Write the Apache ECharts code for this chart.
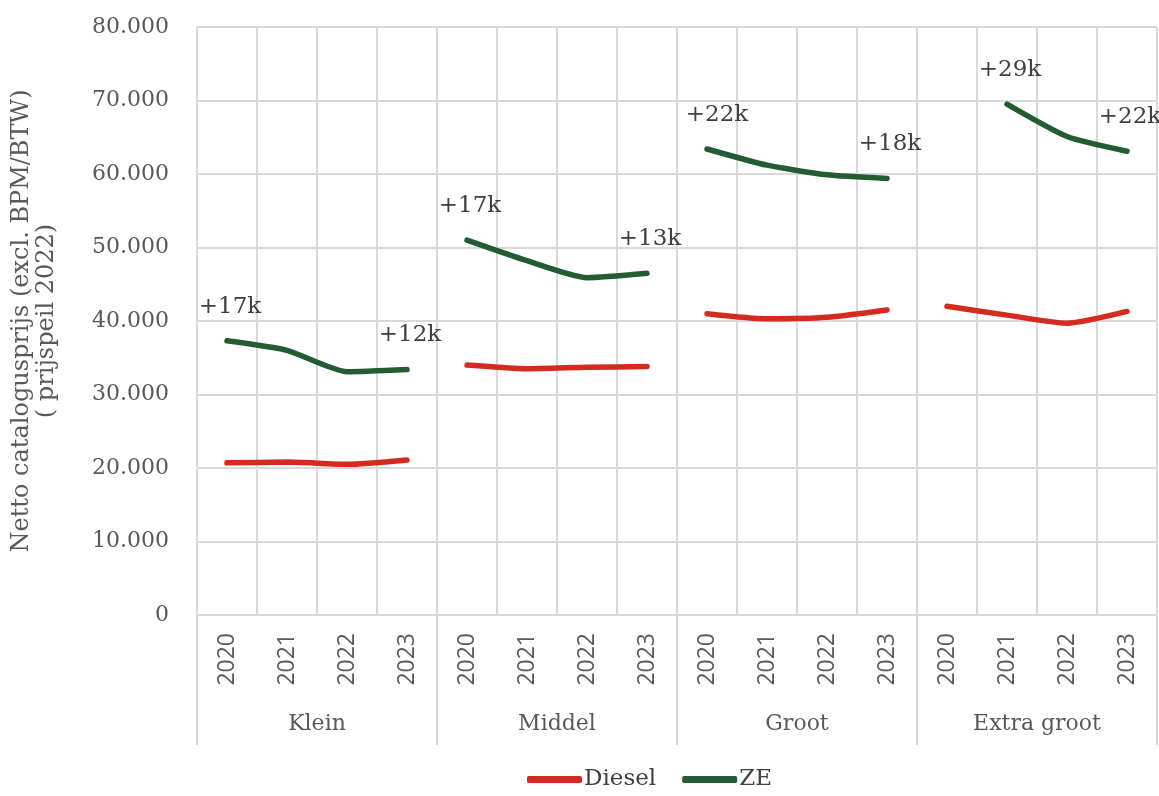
<!DOCTYPE html>
<html>
<head>
<meta charset="utf-8">
<script src="https://cdn.jsdelivr.net/npm/echarts@6/dist/echarts.min.js"></script>
<style>
  html, body { margin: 0; padding: 0; background: #fff; }
  #chart { width: 1159px; height: 796px; }
</style>
</head>
<body>
<div id="chart"></div>
<script>
// categories
const groups = ["Klein", "Middel", "Groot", "Extra groot"];
const years = ["2020", "2021", "2022", "2023"];

// values per group, 2020..2023
const dieselKlein = [20700, 20800, 20500, 21100];
const dieselMiddel = [34000, 33500, 33700, 33800];
const dieselGroot = [41000, 40300, 40500, 41500];
const dieselExtra = [42000, 40800, 39700, 41300];

const zeKlein = [37300, 36000, 33100, 33400];
const zeMiddel = [51000, 48200, 45900, 46500];
const zeGroot = [63400, 61200, 59900, 59400];
const zeExtra = [null, 69500, 65100, 63100];

// labels shown on the ZE lines (first and last point of each group)
const zeLabels = [
  ["+17k", null, null, "+12k"],
  ["+17k", null, null, "+13k"],
  ["+22k", null, null, "+18k"],
  [null, "+29k", null, "+22k"]
];

// y axis ticks
const yMin = 0;
const yMax = 80000;
const yStep = 10000;

const dieselAll = [dieselKlein, dieselMiddel, dieselGroot, dieselExtra];
const zeAll = [zeKlein, zeMiddel, zeGroot, zeExtra];

const categories = [];
groups.forEach(g => years.forEach(y => categories.push(g + " " + y)));

const serif = "DejaVu Serif";
const gridColor = "#d9d9d9";

function spread(values, gi) {
  const out = new Array(categories.length).fill(null);
  values.forEach((v, i) => { out[gi * 4 + i] = v; });
  return out;
}

const series = [];
dieselAll.forEach((vals, gi) => {
  series.push({
    name: "Diesel",
    type: "line",
    data: spread(vals, gi),
    showSymbol: false,
    smooth: 0.2,
    lineStyle: { width: 5.5, color: "#d42a20", cap: "round" },
    itemStyle: { color: "#d42a20" },
    z: 3
  });
});
zeAll.forEach((vals, gi) => {
  const data = spread(vals, gi).map((v, idx) => {
    const k = idx - gi * 4;
    const txt = k >= 0 && k < 4 ? zeLabels[gi][k] : null;
    if (v == null || !txt) return v;
    return {
      value: v,
      label: {
        show: true,
        formatter: txt,
        offset: gi === 2 && k === 0 ? [10, 0] : [3, 0]
      }
    };
  });
  series.push({
    name: "ZE",
    type: "line",
    data: data,
    showSymbol: true,
    symbol: "circle",
    symbolSize: 1,
    smooth: 0.2,
    lineStyle: { width: 5.5, color: "#235b33", cap: "round" },
    itemStyle: { color: "#235b33" },
    label: {
      show: false,
      position: "top",
      distance: 22,
      fontFamily: serif,
      fontSize: 23,
      color: "#404040"
    },
    z: 4
  });
});

const chart = echarts.init(document.getElementById("chart"));
chart.setOption({
  animation: false,
  textStyle: { fontFamily: serif },
  grid: { left: 197, right: 2, top: 27, bottom: 181, outerBoundsMode: "none", containLabel: false },
  legend: {
    bottom: 0,
    left: 522,
    itemWidth: 55,
    itemHeight: 7,
    itemGap: 26,
    icon: "roundRect",
    textStyle: { fontFamily: serif, fontSize: 23, color: "#404040", padding: [0, 0, 0, -3] },
    data: ["Diesel", "ZE"]
  },
  xAxis: [
    {
      type: "category",
      data: categories,
      boundaryGap: true,
      axisLine: { show: true, lineStyle: { color: gridColor, width: 2 } },
      axisTick: { show: false },
      splitLine: { show: true, interval: 0, lineStyle: { color: gridColor, width: 2 } },
      axisLabel: {
        interval: 0,
        rotate: 90,
        margin: 18,
        fontFamily: "Open Sans",
        fontSize: 23,
        color: "#595959",
        formatter: v => v.split(" ").pop()
      }
    },
    {
      type: "category",
      data: groups,
      position: "bottom",
      boundaryGap: true,
      axisLine: { show: false },
      axisTick: { show: true, interval: 0, length: 130, lineStyle: { color: gridColor, width: 2 } },
      axisLabel: {
        interval: 0,
        margin: 98,
        fontFamily: serif,
        fontSize: 22,
        color: "#595959"
      }
    }
  ],
  yAxis: {
    type: "value",
    min: yMin,
    max: yMax,
    interval: yStep,
    name: "Netto catalogusprijs (excl. BPM/BTW)\n( prijspeil 2022)",
    nameLocation: "middle",
    nameGap: 138,
    nameTextStyle: { fontFamily: serif, fontSize: 24, color: "#595959", lineHeight: 25 },
    axisLine: { show: false },
    axisTick: { show: false },
    splitLine: { show: true, lineStyle: { color: gridColor, width: 2 } },
    axisLabel: {
      margin: 28,
      fontFamily: serif,
      fontSize: 22,
      color: "#595959",
      formatter: v => v === 0 ? "0" : String(v).replace(/\B(?=(\d{3})+(?!\d))/g, ".")
    }
  },
  series: series
});
</script>
</body>
</html>
